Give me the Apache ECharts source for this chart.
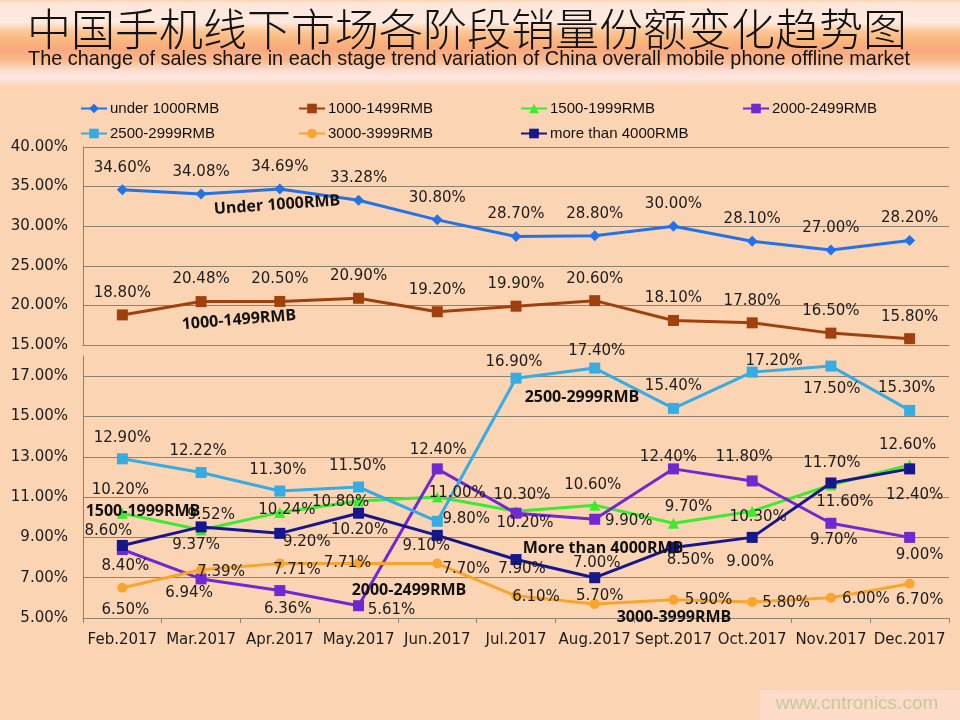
<!DOCTYPE html>
<html>
<head>
<meta charset="utf-8">
<script src="https://cdn.jsdelivr.net/npm/echarts@6/dist/echarts.min.js"></script>
<style>html,body{margin:0;padding:0;background:#FBD4B4;}#c{width:960px;height:720px;}</style>
</head>
<body>
<div id="c"></div>
<script>
// ---- data ----
const months = ['Feb.2017','Mar.2017','Apr.2017','May.2017','Jun.2017','Jul.2017','Aug.2017','Sept.2017','Oct.2017','Nov.2017','Dec.2017'];
const under1000 = [34.60, 34.08, 34.69, 33.28, 30.80, 28.70, 28.80, 30.00, 28.10, 27.00, 28.20];
const r1000_1499 = [18.80, 20.48, 20.50, 20.90, 19.20, 19.90, 20.60, 18.10, 17.80, 16.50, 15.80];
const r1500_1999 = [10.20, 9.37, 10.24, 10.80, 11.00, 10.30, 10.60, 9.70, 10.30, 11.60, 12.60];
const r2000_2499 = [8.40, 6.94, 6.36, 5.61, 12.40, 10.20, 9.90, 12.40, 11.80, 9.70, 9.00];
const r2500_2999 = [12.90, 12.22, 11.30, 11.50, 9.80, 16.90, 17.40, 15.40, 17.20, 17.50, 15.30];
const r3000_3999 = [6.50, 7.39, 7.71, 7.71, 7.70, 6.10, 5.70, 5.90, 5.80, 6.00, 6.70];
const over4000 = [8.60, 9.52, 9.20, 10.20, 9.10, 7.90, 7.00, 8.50, 9.00, 11.70, 12.40];
const seriesNames = ['under 1000RMB','1000-1499RMB','1500-1999RMB','2000-2499RMB','2500-2999RMB','3000-3999RMB','more than 4000RMB'];
const titleText = '中国手机线下市场各阶段销量份额变化趋势图';
const subtitleText = 'The change of sales share in each stage trend variation of China overall mobile phone offline market';

// ---- label placement (style only) ----
const T = [0,-22];
const offU = Array(11).fill(T);
const offB = Array(11).fill(T);
const offLB = [[0,-21],[-3,-21],[-2,-21],[-1,-21],[29,-2],[-2,-16],[2,-17],[0,-22],[22,-11],[1,23],[-3,-22]];
const offG = [[-2,-23],[-5,15],[7,-2],[-18,1],[20,-4],[6,-16],[-2,-20],[15,-16],[6,6],[14,17],[-2,-20]];
const offP = [[3,17],[-12,14],[8,19],[33,4],[1,-19],[9,10],[34,2],[-5,-12],[-8,-24],[3,17],[10,18]];
const offN = [[-14,-14],[10,-12],[27,9],[1,17],[-11,11],[6,10],[2,-15],[17,13],[-2,25],[1,-20],[5,26]];
const offO = [[3,22],[20,2],[17,7],[-11,0],[29,6],[20,1],[5,-8],[35,0],[34,1],[35,1],[10,16]];

const colors = ['#2372E6','#A0400E','#3CEB30','#7028D0','#36ACE2','#F7A52C','#16168E'];
const symbols = ['diamond','rect','triangle','rect','rect','circle','rect'];
const symSizes = [11,11,11,11,11,10,11];

const valueSets = [under1000, r1000_1499, r1500_1999, r2000_2499, r2500_2999, r3000_3999, over4000];
const offSets = [offU, offB, offG, offP, offLB, offO, offN];
const gridOf = [0,0,1,1,1,1,1];

const labelFont = 'DejaVu Sans';
const pct = v => Number(v).toFixed(2) + '%';

const series = valueSets.map((vals, k) => ({
  name: seriesNames[k],
  type: 'line',
  xAxisIndex: gridOf[k],
  yAxisIndex: gridOf[k],
  symbol: symbols[k],
  symbolSize: symSizes[k],
  showAllSymbol: true,
  lineStyle: { width: 3, color: colors[k] },
  itemStyle: { color: colors[k] },
  z: 3,
  label: {
    show: true, position: 'inside', fontFamily: labelFont, fontSize: 15, color: '#1c1c1c',
    formatter: p => pct(p.value)
  },
  emphasis: { disabled: true },
  data: vals.map((v, i) => ({ value: v, label: { offset: offSets[k][i] } }))
}));

// legends: 4 columns, 2 rows
const legendCols = [75, 293, 515, 737];
const legends = seriesNames.map((n, k) => ({
  data: [n],
  left: legendCols[k % 4],
  top: k < 4 ? 96 : 121,
  itemWidth: 26, itemHeight: 12, itemGap: 2,
  textStyle: { fontFamily: "'Liberation Sans', Arial, sans-serif", fontSize: 15, color: '#111', padding: [0,0,0,-2] },
  selectedMode: false
}));

// measure subtitle to fit reference width (condensed look)
const ctx = document.createElement('canvas').getContext('2d');
const subFont = "21px 'Liberation Sans', Arial, sans-serif";
ctx.font = subFont;
const subScale = 882 / ctx.measureText(subtitleText).width;

const gridLineColor = '#8C8272';
const annFont = "bold 16px 'Open Sans', sans-serif";

const chart = echarts.init(document.getElementById('c'), null, { renderer: 'canvas' });
chart.setOption({
  backgroundColor: '#FBD4B4',
  animation: false,
  color: colors,
  legend: legends,
  grid: [
    { left: 83, right: 11, top: 147, height: 198 },
    { left: 83, right: 11, top: 356, height: 262 }
  ],
  xAxis: [
    { gridIndex: 0, type: 'category', data: months, boundaryGap: true,
      axisLine: { lineStyle: { color: gridLineColor } }, axisTick: { show: false }, axisLabel: { show: false } },
    { gridIndex: 1, type: 'category', data: months, boundaryGap: true,
      axisLine: { lineStyle: { color: gridLineColor } },
      axisTick: { show: true, length: 5, interval: 0, lineStyle: { color: gridLineColor } },
      axisLabel: { interval: 0, fontFamily: labelFont, fontSize: 15, color: '#1c1c1c', margin: 15 } }
  ],
  yAxis: [
    { gridIndex: 0, type: 'value', min: 15, max: 40, interval: 5,
      axisLine: { show: true, lineStyle: { color: gridLineColor } }, axisTick: { show: false },
      splitLine: { lineStyle: { color: gridLineColor } },
      axisLabel: { formatter: pct, fontFamily: labelFont, fontSize: 15, color: '#1c1c1c', margin: 15 } },
    { gridIndex: 1, type: 'value', min: 5, max: 18, interval: 2,
      axisLine: { show: true, lineStyle: { color: gridLineColor } }, axisTick: { show: false },
      splitLine: { showMaxLine: false, lineStyle: { color: gridLineColor } },
      axisLabel: { showMaxLabel: false, formatter: pct, fontFamily: labelFont, fontSize: 15, color: '#1c1c1c', margin: 15 } }
  ],
  series: series,
  graphic: [
    { type: 'rect', z: -10, shape: { x: 0, y: 0, width: 960, height: 86 },
      style: { fill: new echarts.graphic.LinearGradient(0, 0, 0, 1, [
        { offset: 0, color: '#FBD4B4' }, { offset: 0.04, color: '#FDE6DA' }, { offset: 0.26, color: '#FDEAE0' },
        { offset: 0.36, color: '#FBC898' }, { offset: 0.47, color: '#F9B67C' }, { offset: 0.58, color: '#F9A880' },
        { offset: 0.70, color: '#FAB98A' }, { offset: 0.82, color: '#FCDDD2' }, { offset: 0.92, color: '#FDE6E0' },
        { offset: 1, color: '#FBD4B4' } ]) } },
    { type: 'text', z: 10, x: 467, y: 29, style: { text: titleText, align: 'center', verticalAlign: 'middle',
      font: "300 44px 'Noto Sans CJK SC', sans-serif", fill: '#111' } },
    { type: 'text', z: 10, x: 469, y: 59, scaleX: subScale, style: { text: subtitleText, align: 'center', verticalAlign: 'middle',
      font: subFont, fill: '#111' } },
    { type: 'text', z: 10, x: 277, y: 205, rotation: 0.07, style: { text: 'Under 1000RMB', align: 'center', verticalAlign: 'middle', font: annFont, fill: '#111' } },
    { type: 'text', z: 10, x: 239, y: 320, rotation: 0.08, style: { text: '1000-1499RMB', align: 'center', verticalAlign: 'middle', font: annFont, fill: '#111' } },
    { type: 'text', z: 10, x: 143, y: 511, style: { text: '1500-1999RMB', align: 'center', verticalAlign: 'middle', font: annFont, fill: '#111' } },
    { type: 'text', z: 10, x: 582, y: 397, style: { text: '2500-2999RMB', align: 'center', verticalAlign: 'middle', font: annFont, fill: '#111' } },
    { type: 'text', z: 10, x: 603, y: 548, style: { text: 'More than 4000RMB', align: 'center', verticalAlign: 'middle', font: annFont, fill: '#111' } },
    { type: 'text', z: 10, x: 409, y: 590, style: { text: '2000-2499RMB', align: 'center', verticalAlign: 'middle', font: annFont, fill: '#111' } },
    { type: 'text', z: 10, x: 674, y: 617, style: { text: '3000-3999RMB', align: 'center', verticalAlign: 'middle', font: annFont, fill: '#111' } },
    { type: 'rect', z: -5, shape: { x: 760, y: 690, width: 200, height: 30 }, style: { fill: '#FCDCC8' } },
    { type: 'text', z: 10, x: 857, y: 704, style: { text: 'www.cntronics.com', align: 'center', verticalAlign: 'middle',
      font: "19px 'Liberation Sans', Arial, sans-serif", fill: '#C8C99A' } }
  ]
});
</script>
</body>
</html>
